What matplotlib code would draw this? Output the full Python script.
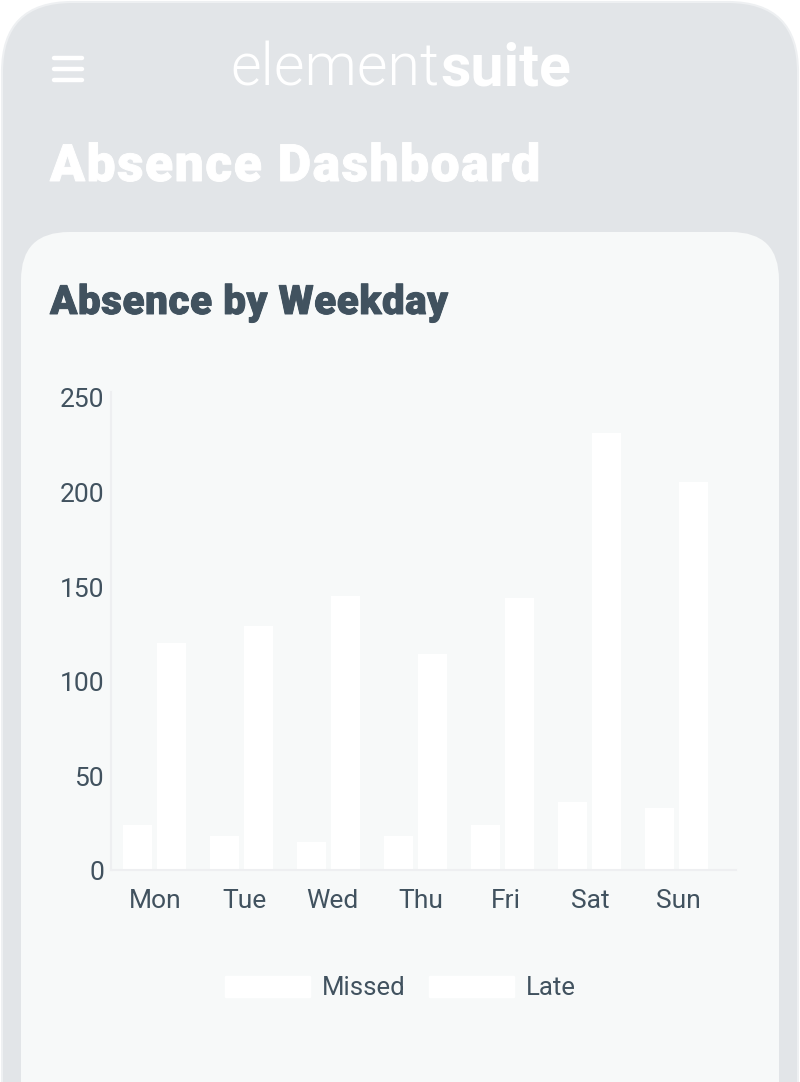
import matplotlib
matplotlib.use("Agg")
import matplotlib.pyplot as plt
import matplotlib.patheffects as pe
import numpy as np
from matplotlib.lines import Line2D
from matplotlib.patches import FancyBboxPatch, Patch
from matplotlib.transforms import ScaledTranslation

W, H = 800, 1082

days = ['Mon', 'Tue', 'Wed', 'Thu', 'Fri', 'Sat', 'Sun']
missed = [24, 18, 15, 18, 24, 36, 33]
late = [120, 129, 145, 114, 144, 231, 205]
y_ticks = [0, 50, 100, 150, 200, 250]

TEXT = '#41525f'
AXIS_LINE = '#eeeff1'
SHELL = '#e2e5e8'
CARD = '#f7f9f9'

plt.rcParams['font.family'] = ['Roboto', 'DejaVu Sans']

fig = plt.figure(figsize=(W / 100, H / 100), dpi=100, facecolor='white')

# page chrome, drawn in pixel coordinates
bg = fig.add_axes([0, 0, 1, 1])
bg.set_xlim(0, W)
bg.set_ylim(H, 0)
bg.axis('off')

bg.add_patch(FancyBboxPatch((2, 2), 796, 1300, boxstyle='round,pad=0,rounding_size=70',
                            fc=SHELL, ec='#eef0f2', lw=1.5))
bg.add_patch(FancyBboxPatch((21, 232), 758, 1000, boxstyle='round,pad=0,rounding_size=48',
                            fc=CARD, ec='none'))

# menu icon
for y in [58, 69, 80]:
    bg.add_line(Line2D([54, 82], [y, y], color='white', lw=3.2, solid_capstyle='round'))

# logo, second half starts where the first one ends
logo = bg.text(230.5, 86, 'element', color='white', fontsize=42.5, fontweight=300,
               family='Roboto', va='baseline', ha='left')
fig.canvas.draw()
box = logo.get_window_extent()
bg.text(box.x1 + 1, 86, 'suite', color='white', fontsize=42.5, fontweight='bold',
        family='Roboto', va='baseline', ha='left')


# matplotlib has no letter spacing, so place the heading one letter at a time
def tracked_text(x, y, s, color, size, spacing):
    renderer = fig.canvas.get_renderer()
    stroke = [pe.withStroke(linewidth=0.7, foreground=color)]
    for i, ch in enumerate(s):
        probe = bg.text(0, 0, s[:i + 1], fontsize=size, fontweight=900)
        full = probe.get_window_extent(renderer).width
        probe.set_text(ch)
        own = probe.get_window_extent(renderer).width
        probe.remove()
        bg.text(x + full - own + i * spacing, y, ch, color=color, fontsize=size, fontweight=900,
                va='baseline', ha='left', path_effects=stroke)


tracked_text(50, 181, 'Absence Dashboard', 'white', 37, 1.65)
tracked_text(50, 314, 'Absence by Weekday', TEXT, 29, 0.6)

# chart
x0, x1, y_top, y_base = 111, 736, 392, 870
ax = fig.add_axes([x0 / W, 1 - y_base / H, (x1 - x0) / W, (y_base - y_top) / H])
ax.patch.set_alpha(0)

x = np.arange(len(days))
ax.bar(x - 0.2, missed, width=0.33, color='white', label='Missed')
ax.bar(x + 0.19, late, width=0.33, color='white', label='Late')

ax.set_xlim(-0.506, 6.678)
ax.set_ylim(0, 252.6)
ax.set_xticks(x, days)
ax.set_yticks(y_ticks)
ax.tick_params(axis='both', length=0, labelsize=19, labelcolor=TEXT)
ax.tick_params(axis='x', pad=14)
ax.tick_params(axis='y', pad=5)

# the original labels sit a little off the bar centres
x_label_nudge = [0, 2.5, 3, 5, 3, 0, 1.5]
for lab, dx in zip(ax.get_xticklabels(), x_label_nudge):
    lab.set_transform(lab.get_transform() + ScaledTranslation(dx / 100, 0, fig.dpi_scale_trans))
for lab in ax.get_yticklabels():
    lab.set_transform(lab.get_transform() + ScaledTranslation(0, -1 / 100, fig.dpi_scale_trans))

for side in ['top', 'right']:
    ax.spines[side].set_visible(False)
for side in ['left', 'bottom']:
    ax.spines[side].set_color(AXIS_LINE)
    ax.spines[side].set_linewidth(1.5)

handles = [Patch(color='white', label='Missed'), Patch(color='white', label='Late')]
fig.legend(handles=handles, loc='center', bbox_to_anchor=(400.5 / W, 1 - 988 / H), ncol=2,
           frameon=False, fontsize=18.5, labelcolor=TEXT, handlelength=3.3, handleheight=0.93,
           handletextpad=0.47, columnspacing=0.9, borderpad=0, borderaxespad=0)

fig.savefig('out.png', dpi=100)
